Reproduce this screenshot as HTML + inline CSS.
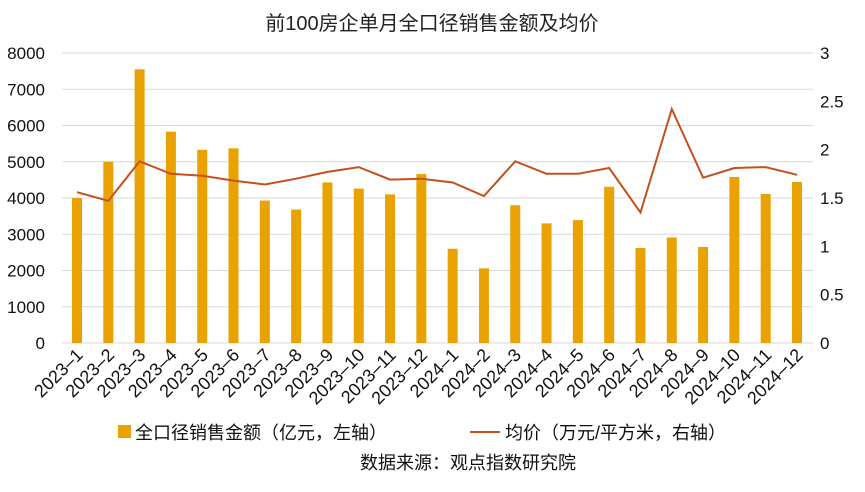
<!DOCTYPE html>
<html><head><meta charset="utf-8"><style>
body{margin:0;background:#fff;}
text{font-family:"Liberation Sans","Noto Sans CJK SC",sans-serif;}
</style></head><body>
<svg width="865" height="487" xmlns="http://www.w3.org/2000/svg">
<text x="432" y="30" text-anchor="middle" font-size="20" fill="#222">前100房企单月全口径销售金额及均价</text>
</svg>
<script>
(function(){
const svg=document.querySelector('svg');const ns='http://www.w3.org/2000/svg';
function el(t,a,txt){const e=document.createElementNS(ns,t);for(const k in a)e.setAttribute(k,a[k]);if(txt!=null)e.textContent=txt;svg.appendChild(e);return e;}
const y0=343,yTop=53,H=y0-yTop;
for(let i=0;i<=8;i++){const y=y0-i*H/8;el('line',{x1:62,x2:813,y1:y,y2:y,stroke:'#d9d9d9','stroke-width':1});
el('text',{x:45,y:y+6,'text-anchor':'end','font-size':17,fill:'#111'},String(i*1000));}
for(let i=0;i<=6;i++){const y=y0-i*H/6;el('text',{x:820,y:y+6,'font-size':17,fill:'#111'},String(i*0.5));}
const bars=[4000,5000,7550,5830,5330,5370,3930,3680,4430,4260,4100,4660,2600,2060,3800,3300,3390,4310,2620,2910,2650,4580,4110,4440];
const line=[1.56,1.47,1.88,1.75,1.73,1.68,1.64,1.70,1.77,1.82,1.69,1.70,1.66,1.52,1.88,1.75,1.75,1.81,1.35,2.42,1.71,1.81,1.82,1.74];
const step=(797-77)/23;let pts=[];
bars.forEach((v,i)=>{const cx=77+i*step;const h=v/8000*H;
el('rect',{x:cx-5,y:y0-h,width:10,height:h,fill:'#E9A201'});
pts.push(cx+','+(y0-line[i]/3*H).toFixed(1));
const lab=(i<12?'2023–':'2024–')+(i%12+1);
el('text',{x:cx+7,y:356,'text-anchor':'end','font-size':18,fill:'#111',transform:'rotate(-45 '+(cx+7)+' 356)'},lab);});
el('polyline',{points:pts.join(' '),fill:'none',stroke:'#C4501A','stroke-width':2});
el('rect',{x:118,y:425,width:13,height:13,fill:'#E9A201'});
el('text',{x:135,y:439,'font-size':18,fill:'#111'},'全口径销售金额（亿元，左轴）');
el('line',{x1:470,x2:500,y1:432,y2:432,stroke:'#C4501A','stroke-width':2});
el('text',{x:505,y:439,'font-size':18,fill:'#111'},'均价（万元/平方米，右轴）');
el('text',{x:468,y:469,'text-anchor':'middle','font-size':18,fill:'#111'},'数据来源：观点指数研究院');
})();
</script>
</body></html>
